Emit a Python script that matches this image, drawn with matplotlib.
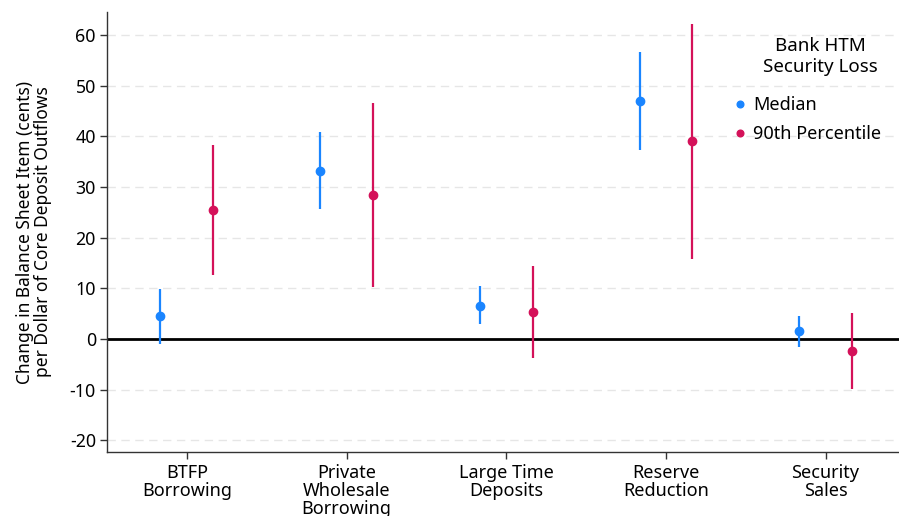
import matplotlib
matplotlib.use("Agg")
import matplotlib.pyplot as plt
import numpy as np

plt.rcParams['font.family'] = ['Noto Sans', 'DejaVu Sans']

categories = ["BTFP\nBorrowing", "Private\nWholesale\nBorrowing", "Large Time\nDeposits",
              "Reserve\nReduction", "Security\nSales"]

median_est = [4.5, 33.2, 6.6, 46.9, 1.5]
median_lo = [-1.0, 25.6, 2.9, 37.2, -1.6]
median_hi = [9.8, 40.8, 10.4, 56.6, 4.6]

p90_est = [25.4, 28.4, 5.3, 39.1, -2.4]
p90_lo = [12.6, 10.2, -3.8, 15.8, -9.8]
p90_hi = [38.2, 46.6, 14.4, 62.2, 5.1]

yticks = [-20, -10, 0, 10, 20, 30, 40, 50, 60]

blue = "#1A85FF"
red = "#D41159"

W, H = 899, 516
fig = plt.figure(figsize=(W / 100, H / 100), dpi=100)
ax = fig.add_axes([107 / W, 1 - 452 / H, 1 - 107 / W, (452 - 12) / H])

x = np.arange(len(categories))
off = 0.165

for yv in yticks:
    if yv != 0:
        ax.axhline(yv, color="#e6e6e6", lw=1, ls=(0, (6, 4)), zorder=0)
ax.axhline(0, color="black", lw=2, zorder=1)

ax.vlines(x - off, median_lo, median_hi, color=blue, lw=1.6, zorder=2)
ax.plot(x - off, median_est, "o", color=blue, ms=6, zorder=3, label="Median")
ax.vlines(x + off, p90_lo, p90_hi, color=red, lw=1.6, zorder=2)
ax.plot(x + off, p90_est, "o", color=red, ms=6, zorder=3, label="90th Percentile")

ax.set_xlim(-0.5, 4.46)
ax.set_ylim(-22.3, 64.5)
ax.set_yticks(yticks)
ax.set_yticklabels([str(v) for v in yticks], fontsize=12.8)
ax.set_xticks(x)
ax.set_xticklabels(categories, fontsize=13, linespacing=1.0)
ax.tick_params(axis="both", length=5, width=1, color="#333333")
ax.tick_params(axis="y", pad=3)
ax.tick_params(axis="x", pad=4)

for s in ["top", "right"]:
    ax.spines[s].set_visible(False)
for s in ["left", "bottom"]:
    ax.spines[s].set_color("#333333")
    ax.spines[s].set_linewidth(1)

ax.set_ylabel("Change in Balance Sheet Item (cents)\nper Dollar of Core Deposit Outflows",
              fontsize=12.5, linespacing=1.0, labelpad=13)

# legend title drawn separately so the gap above the entries can be set freely
fig.text(820 / W, 1 - 37 / H, "Bank HTM\nSecurity Loss", ha="center", va="top",
         fontsize=13.5, linespacing=1.2, multialignment="center")
ax.legend(frameon=False, fontsize=13, loc="upper left",
          bbox_to_anchor=(729 / W, 1 - 96 / H), bbox_transform=fig.transFigure,
          handletextpad=0.15, handlelength=1.2, markerscale=0.8,
          labelspacing=0.6, borderpad=0, borderaxespad=0)

fig.savefig("out.png", dpi=100)
